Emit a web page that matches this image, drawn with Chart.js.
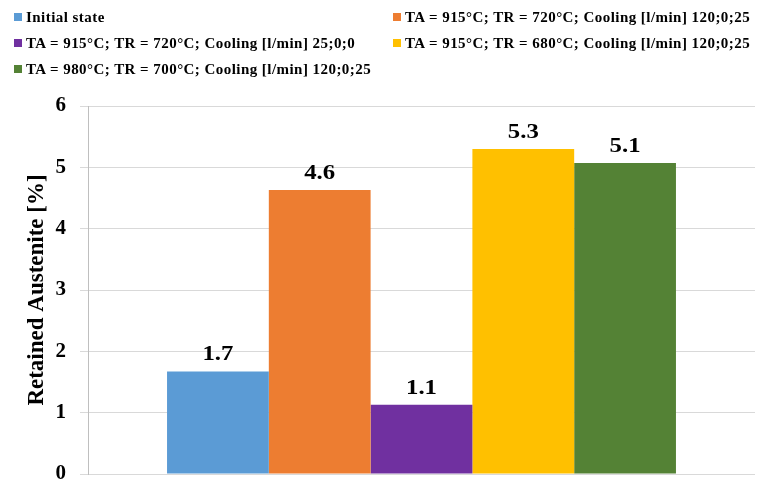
<!DOCTYPE html>
<html>
<head>
<meta charset="utf-8">
<script src="https://cdn.jsdelivr.net/npm/chart.js@4"></script>
<style>
  html, body { margin: 0; padding: 0; background: #fff; }
  #wrap { position: relative; width: 761px; height: 484px; }
  #legend {
    position: absolute; left: 14px; top: 8px;
    display: grid; grid-template-columns: 379px auto; row-gap: 8px;
    font: bold 15px "Liberation Serif", "Times New Roman", serif; color: #000;
    letter-spacing: 0.45px;
  }
  #legend div { display: flex; align-items: center; height: 18px; white-space: nowrap; }
  #legend span.box { display: inline-block; width: 8px; height: 8px; margin-right: 4px; }
</style>
</head>
<body>
<div id="wrap">
  <canvas id="raChart" width="761" height="484"></canvas>
  <div id="legend"></div>
</div>
<script>
const seriesNames = [
  'Initial state',
  'TA = 915°C; TR = 720°C; Cooling [l/min] 120;0;25',
  'TA = 915°C; TR = 720°C; Cooling [l/min] 25;0;0',
  'TA = 915°C; TR = 680°C; Cooling [l/min] 120;0;25',
  'TA = 980°C; TR = 700°C; Cooling [l/min] 120;0;25'
];
const retained = [1.67, 4.63, 1.13, 5.3, 5.07];
const colors = ['#5B9BD5', '#ED7D31', '#7030A0', '#FFC000', '#548235'];
const yTicks = [0, 1, 2, 3, 4, 5, 6];

const serif = '"Liberation Serif", "Times New Roman", serif';

// value labels above each bar (slightly widened glyphs)
const barLabels = {
    id: 'barLabels',
    afterDatasetsDraw(chart) {
        const ctx = chart.ctx;
        chart.data.datasets.forEach((ds, i) => {
            const bar = chart.getDatasetMeta(i).data[0];
            ctx.save();
            ctx.font = 'bold 21px ' + serif;
            ctx.fillStyle = '#000';
            ctx.textAlign = 'center';
            ctx.textBaseline = 'bottom';
            ctx.translate(bar.x, bar.y - 6);
            ctx.scale(1.18, 1);
            ctx.fillText(ds.data[0].toFixed(1), 0, 0);
            ctx.restore();
        });
    }
};

const chart = new Chart(document.getElementById('raChart'), {
    type: 'bar',
    data: {
        labels: [''],
        datasets: seriesNames.map((name, i) => ({
            label: name,
            data: [retained[i]],
            backgroundColor: colors[i],
            borderWidth: 0
        }))
    },
    options: {
        responsive: false,
        animation: false,
        layout: { padding: { top: 106, right: 6, bottom: 10, left: 0 } },
        datasets: { bar: { categoryPercentage: 0.763, barPercentage: 1 } },
        plugins: {
            legend: { display: false },
            tooltip: { enabled: false }
        },
        scales: {
            x: {
                display: false
            },
            y: {
                min: 0,
                max: 6,
                afterBuildTicks: scale => { scale.ticks = yTicks.map(v => ({ value: v })); },
                // fixed axis width; keep the tick padding from pushing the bottom up
                afterFit: scale => {
                    scale.width = 88;
                    scale.paddingBottom = 0;
                },
                ticks: {
                    padding: 14,
                    color: '#000',
                    font: { family: serif, size: 21, weight: 'bold' }
                },
                grid: { color: '#d9d9d9', tickLength: 8, lineWidth: 1 },
                border: { color: '#bfbfbf' },
                title: {
                    display: true,
                    text: 'Retained Austenite [%]',
                    color: '#000',
                    padding: { top: 23, bottom: 0 },
                    font: { family: serif, size: 23, weight: 'bold' }
                }
            }
        }
    },
    plugins: [barLabels]
});

// two-column legend
const legend = document.getElementById('legend');
chart.data.datasets.forEach(ds => {
    const item = document.createElement('div');
    const box = document.createElement('span');
    box.className = 'box';
    box.style.background = ds.backgroundColor;
    item.appendChild(box);
    item.appendChild(document.createTextNode(ds.label));
    legend.appendChild(item);
});
</script>
</body>
</html>
